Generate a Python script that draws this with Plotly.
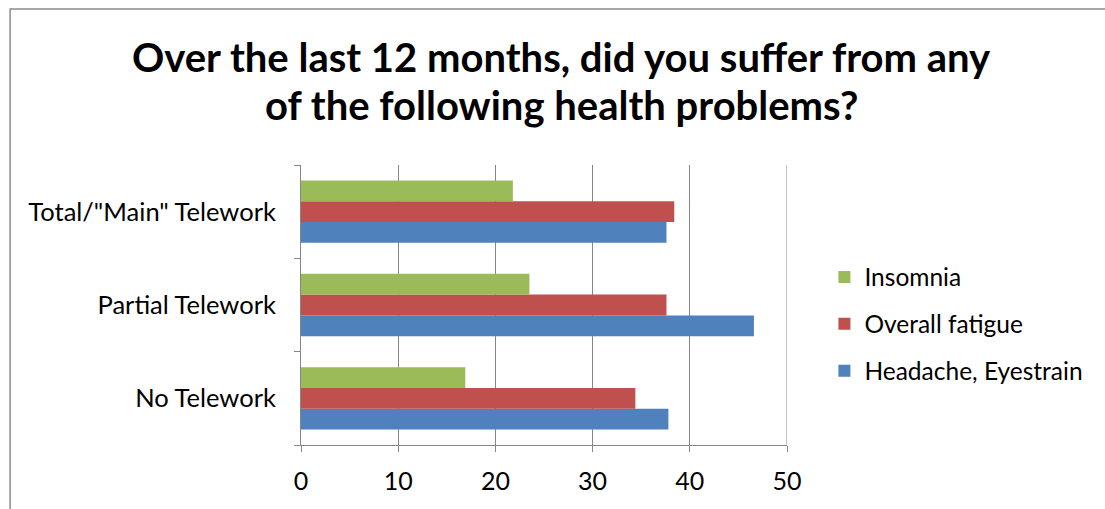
import plotly.graph_objects as go

# Survey results (% of respondents) by telework status
categories = ["No Telework", "Partial Telework", 'Total/"Main" Telework']
headache_eyestrain = [37.8, 46.6, 37.6]
overall_fatigue = [34.4, 37.6, 38.4]
insomnia = [16.9, 23.5, 21.8]
x_ticks = [0, 10, 20, 30, 40, 50]

W, H = 1105, 509
L, R, T, B = 300.5, 787.5, 165, 445  # plot-area pixel box

FONT = "Lato"
GRID = "#868686"

fig = go.Figure()
series = [
    ("Headache, Eyestrain", headache_eyestrain, "#4F81BD", 3),
    ("Overall fatigue", overall_fatigue, "#C0504D", 2),
    ("Insomnia", insomnia, "#9BBB59", 1),
]
for name, vals, color, rank in series:
    fig.add_trace(go.Bar(
        y=categories, x=vals, name=name, orientation="h",
        marker=dict(color=color, line=dict(width=0)),
        legendgroup=name, legendrank=rank,
    ))

def px_to_paper_x(px):
    return (px - L) / (R - L)

def px_to_paper_y(py):
    return (B - py) / (B - T)

fig.update_layout(
    width=W, height=H,
    margin=dict(l=L, r=W - R, t=T, b=H - B, pad=0),
    paper_bgcolor="white", plot_bgcolor="white",
    barmode="group", bargap=0.333, bargroupgap=0,
    font=dict(family=FONT, color="black", size=25),
    xaxis=dict(
        range=[0, 50], tickvals=x_ticks, ticktext=[str(v) for v in x_ticks],
        showgrid=True, gridcolor=GRID, gridwidth=1,
        showline=True, linecolor=GRID, linewidth=1,
        ticks="outside", ticklen=6, tickcolor=GRID,
        zeroline=False, tickfont=dict(size=25), ticklabelstandoff=8,
        fixedrange=True,
    ),
    yaxis=dict(
        categoryorder="array", categoryarray=categories,
        showline=True, linecolor=GRID, linewidth=1,
        ticks="outside", ticklen=6, tickcolor=GRID, tickson="boundaries",
        showgrid=False, tickfont=dict(size=25.5), ticklabelstandoff=19,
        fixedrange=True,
    ),
    legend=dict(
        x=px_to_paper_x(825), xanchor="left",
        y=px_to_paper_y(324), yanchor="middle",
        traceorder="grouped", tracegroupgap=12,
        font=dict(size=24.5), bgcolor="rgba(0,0,0,0)",
    ),
    showlegend=True,
)

# Gridline at the right end of the value axis
fig.add_shape(
    type="line", xref="x", yref="paper", layer="below",
    x0=x_ticks[-1], x1=x_ticks[-1], y0=0, y1=1,
    line=dict(color=GRID, width=1),
)

# Two-line chart title
title_lines = ["Over the last 12 months, did you suffer from any",
               "of the following health problems?"]
for text, ypx in zip(title_lines, [57, 105]):
    fig.add_annotation(
        text=text, xref="paper", yref="paper",
        x=px_to_paper_x(562), y=px_to_paper_y(ypx),
        xanchor="center", yanchor="middle", showarrow=False,
        font=dict(family=FONT, size=40, color="black", weight="bold"),
    )

# Chart outer border
fig.add_shape(
    type="rect", xref="paper", yref="paper", layer="below",
    x0=px_to_paper_x(9), x1=px_to_paper_x(1120),
    y0=px_to_paper_y(530), y1=px_to_paper_y(9),
    line=dict(color="#8C8C8C", width=1.5), fillcolor="rgba(0,0,0,0)",
)

fig.write_html("out.html")
